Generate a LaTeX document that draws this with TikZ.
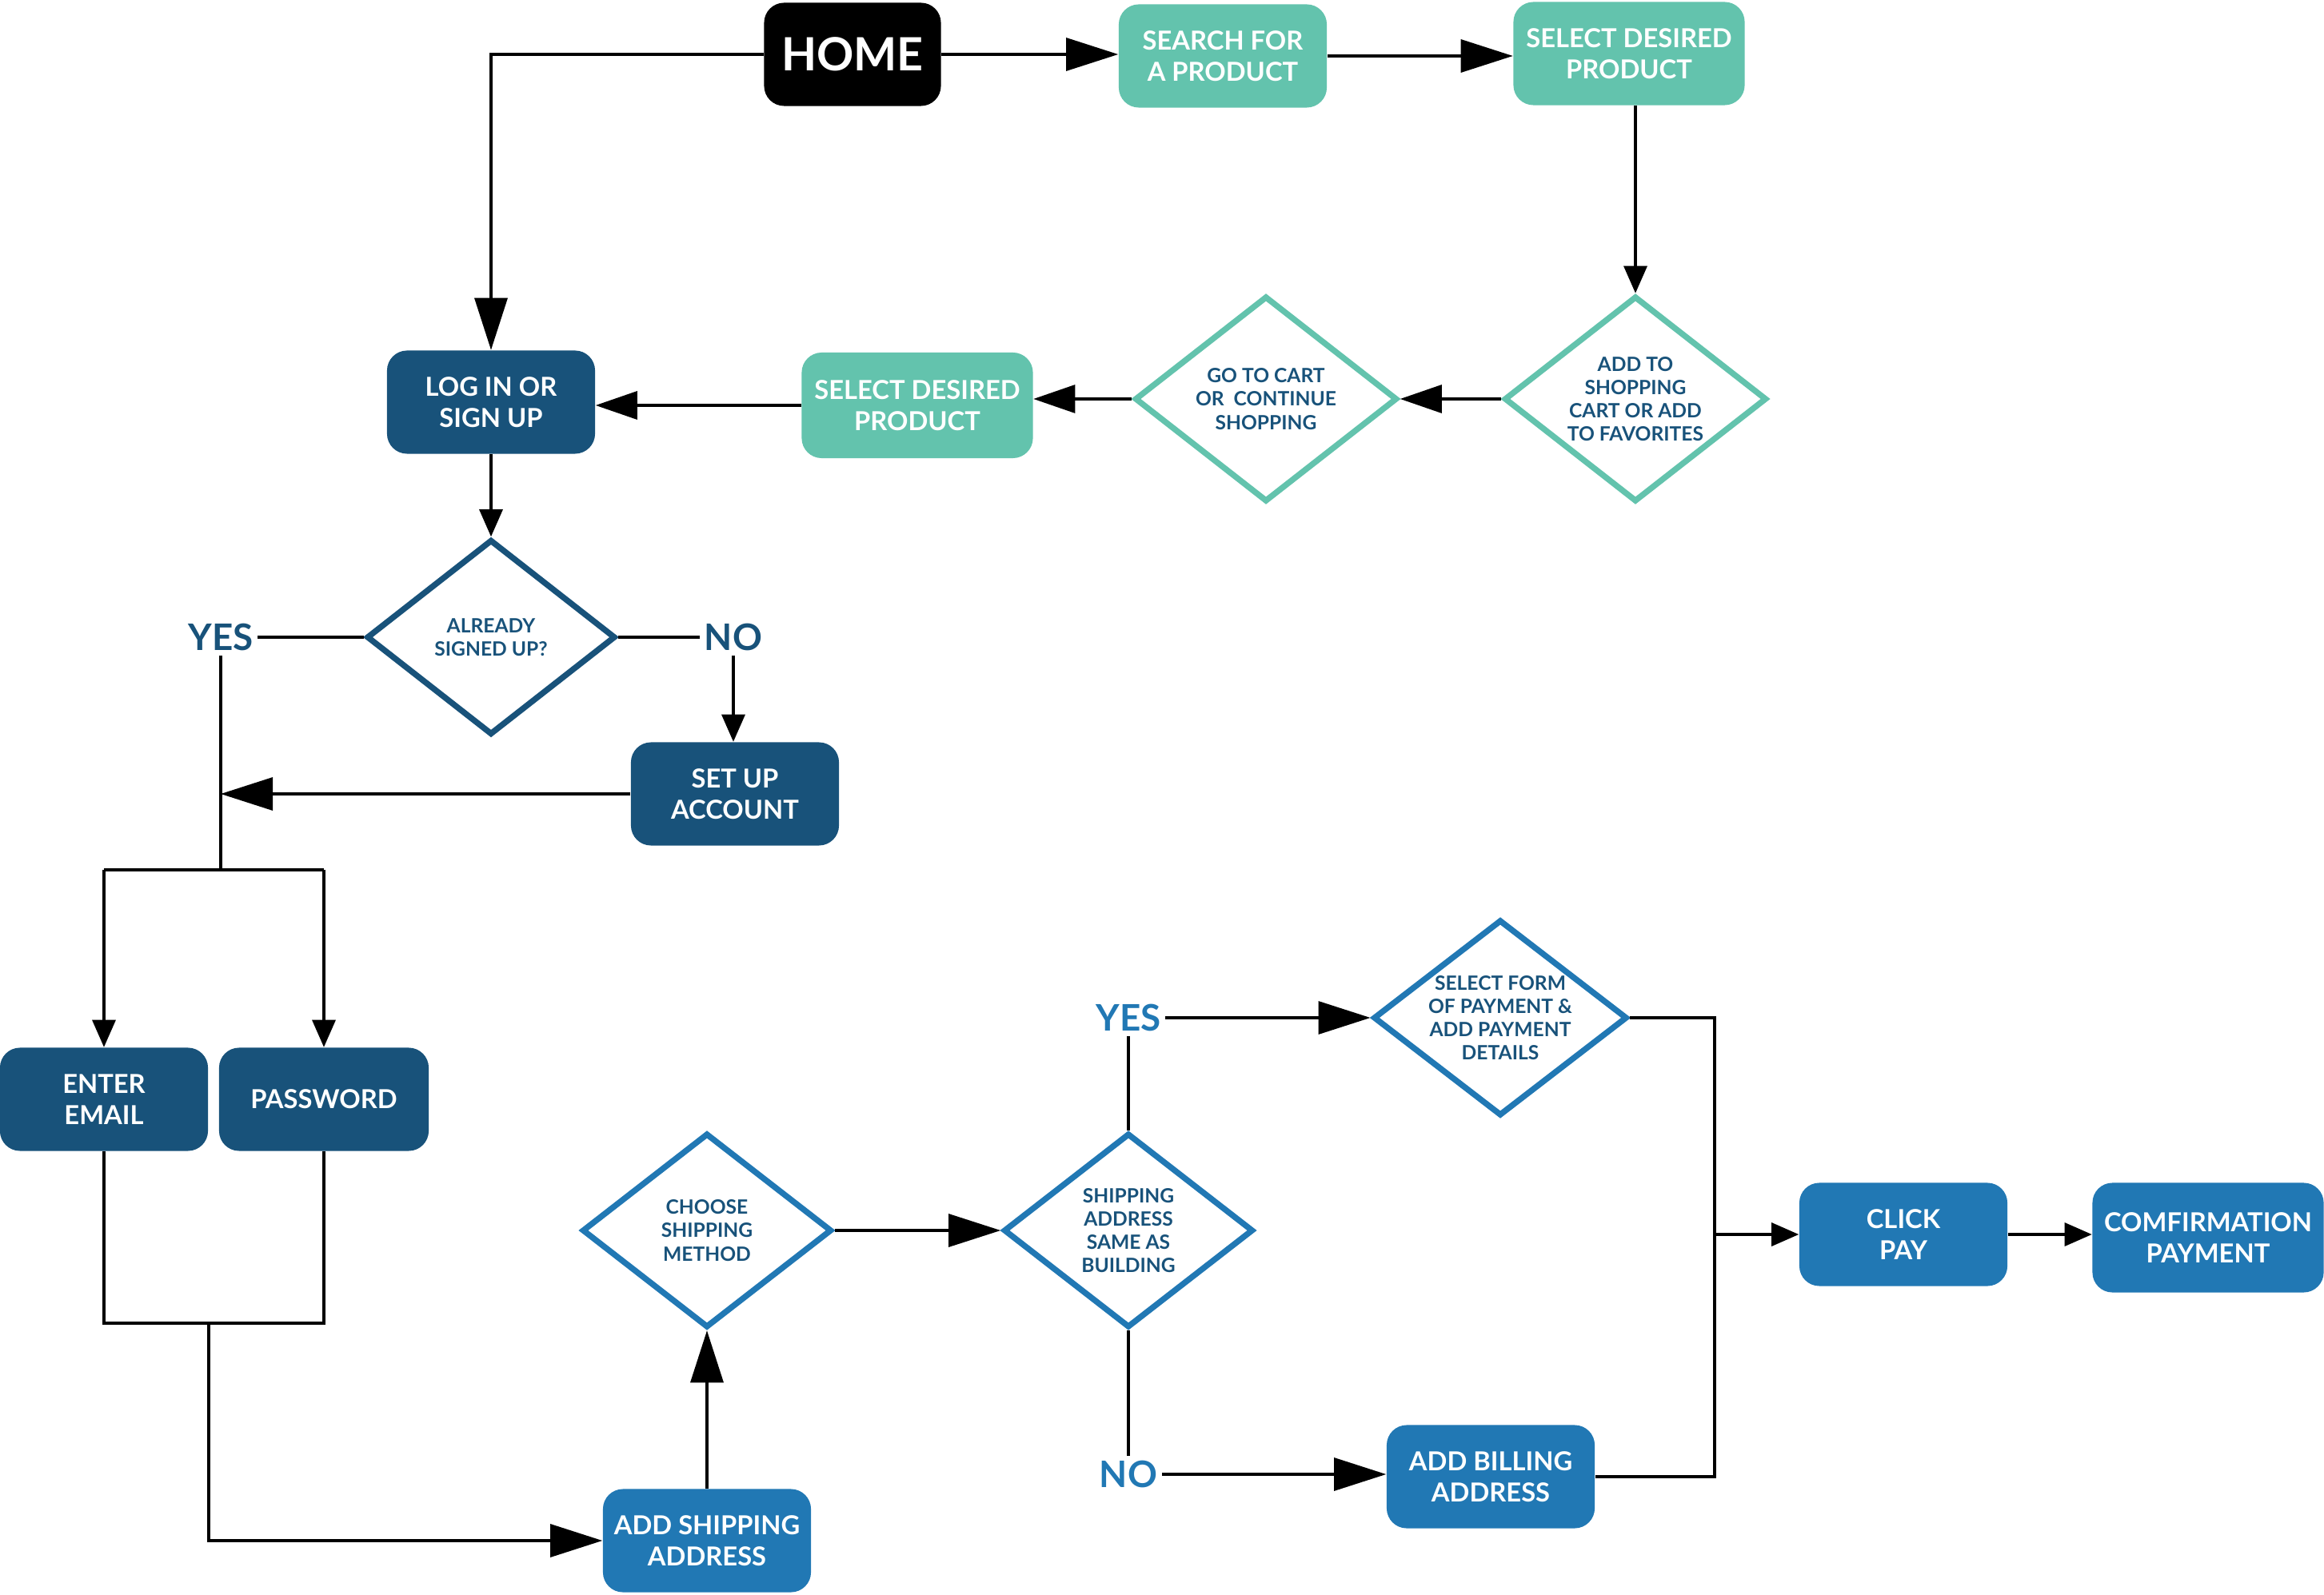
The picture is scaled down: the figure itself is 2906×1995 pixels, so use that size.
\documentclass[tikz,border=0pt]{standalone}
\usepackage{fontspec}
\setmainfont{Lato}
\usetikzlibrary{shapes.geometric,arrows.meta}
\definecolor{shopgreen}{HTML}{63C3AD}
\definecolor{logblue}{HTML}{18527A}
\definecolor{payblue}{HTML}{2178B4}

\begin{document}
\begin{tikzpicture}[x=0.01cm,y=-0.01cm,
  box/.style={rectangle,rounded corners=0.25cm,text=white,align=center,
    font=\bfseries\fontsize{9.3}{11.2}\selectfont,
    minimum width=2.6cm,minimum height=1.29cm,inner sep=0pt},
  choice/.style={diamond,aspect=1.3,draw,line width=2.1pt,align=center,text=logblue,
    font=\bfseries\fontsize{7}{8.3}\selectfont,inner sep=0pt,
    minimum width=3.12cm,minimum height=2.43cm},
  answer/.style={font=\bfseries\fontsize{13}{15}\selectfont,inner sep=1.5pt},
  link/.style={line width=0.9pt},
  bigtip/.style={link,-{Triangle[length=0.65cm,width=0.41cm]}},
  midtip/.style={link,-{Triangle[length=0.52cm,width=0.35cm]}},
  smalltip/.style={link,-{Triangle[length=0.34cm,width=0.29cm]}}]
\useasboundingbox (0,0) rectangle (2906,1995);

\node[box,fill=black,minimum width=2.21cm,font=\bfseries\fontsize{16.3}{18}\selectfont] (home) at (1066,68) {HOME};
\node[box,fill=shopgreen] (search) at (1529,70) {SEARCH FOR\\A PRODUCT};
\node[box,fill=shopgreen,minimum width=2.89cm] (select1) at (2037,67) {SELECT DESIRED\\PRODUCT};
\node[choice,draw=shopgreen,minimum width=3.28cm,minimum height=2.57cm] (addcart) at (2045,499) {ADD TO\\SHOPPING\\CART OR ADD\\TO FAVORITES};
\node[choice,draw=shopgreen,minimum width=3.28cm,minimum height=2.57cm] (gocart) at (1583,499) {GO TO CART\\OR~ CONTINUE\\SHOPPING};
\node[box,fill=shopgreen,minimum width=2.89cm,minimum height=1.32cm] (select2) at (1147,507) {SELECT DESIRED\\PRODUCT};
\node[box,fill=logblue] (login) at (614,503) {LOG IN OR\\SIGN UP};

\node[choice,draw=logblue,minimum width=3.11cm,minimum height=2.44cm] (signed) at (614,797) {ALREADY\\SIGNED UP?};
\node[answer,text=logblue] (yes1) at (276,797) {YES};
\node[answer,text=logblue] (no1) at (917,797) {NO};
\node[box,fill=logblue] (setup) at (919,993) {SET UP\\ACCOUNT};
\node[box,fill=logblue] (email) at (130,1375) {ENTER\\EMAIL};
\node[box,fill=logblue,minimum width=2.62cm] (password) at (405,1375) {PASSWORD};

\node[box,fill=payblue] (shipaddr) at (884,1927) {ADD SHIPPING\\ADDRESS};
\node[choice,draw=payblue] (method) at (884,1539) {CHOOSE\\SHIPPING\\METHOD};
\node[choice,draw=payblue] (same) at (1411,1539) {SHIPPING\\ADDRESS\\SAME AS\\BUILDING};
\node[answer,text=payblue] (yes2) at (1411,1273) {YES};
\node[answer,text=payblue] (no2) at (1411,1844) {NO};
\node[choice,draw=payblue,minimum width=3.13cm,minimum height=2.45cm] (payform) at (1876,1273) {SELECT FORM\\OF PAYMENT \&\\ADD PAYMENT\\DETAILS};
\node[box,fill=payblue] (billing) at (1864,1847) {ADD BILLING\\ADDRESS};
\node[box,fill=payblue] (clickpay) at (2380,1544) {CLICK\\PAY};
\node[box,fill=payblue,minimum width=2.89cm,minimum height=1.37cm] (confirm) at (2761,1548) {COMFIRMATION\\PAYMENT};

\coordinate (fork) at (276,1088);
\coordinate (join) at (261,1655);
\coordinate (merge) at (2144,1544);

\draw[bigtip] (home.east) -- (home.east -| search.west);
\draw[bigtip] (search.east) -- (search.east -| select1.west);
\draw[smalltip] (select1.south -| addcart.north) -- (addcart.north);
\draw[midtip] (addcart.west) -- (gocart.east);
\draw[midtip] (gocart.west) -- (gocart.west -| select2.east);
\draw[midtip] (select2.west) -- (select2.west -| login.east);
\draw[bigtip] (home.west) -| (login.north);
\draw[smalltip] (login.south) -- (signed.north);
\draw[link] (signed.west) -- (yes1.east);
\draw[link] (signed.east) -- (no1.west);
\draw[smalltip] (no1.south) -- (no1.south |- setup.north);
\draw[link] (yes1.south) -- (fork);
\draw[bigtip] (setup.west) -- (setup.west -| fork);
\draw[link] (email.north |- fork) -- (password.north |- fork);
\draw[smalltip] (email.north |- fork) -- (email.north);
\draw[smalltip] (password.north |- fork) -- (password.north);
\draw[link] (email.south) |- (join) -| (password.south);
\draw[bigtip] (join) |- (shipaddr.west);
\draw[bigtip] (shipaddr.north) -- (method.south);
\draw[bigtip] (method.east) -- (same.west);
\draw[link] (same.north) -- (yes2.south);
\draw[bigtip] (yes2.east) -- (yes2.east -| payform.west);
\draw[link] (same.south) -- (no2.north);
\draw[bigtip] (no2.east) -- (no2.east -| billing.west);
\draw[link] (payform.east) -| (merge) |- (billing.east);
\draw[smalltip] (merge) -- (clickpay.west);
\draw[smalltip] (clickpay.east) -- (clickpay.east -| confirm.west);
\end{tikzpicture}
\end{document}
